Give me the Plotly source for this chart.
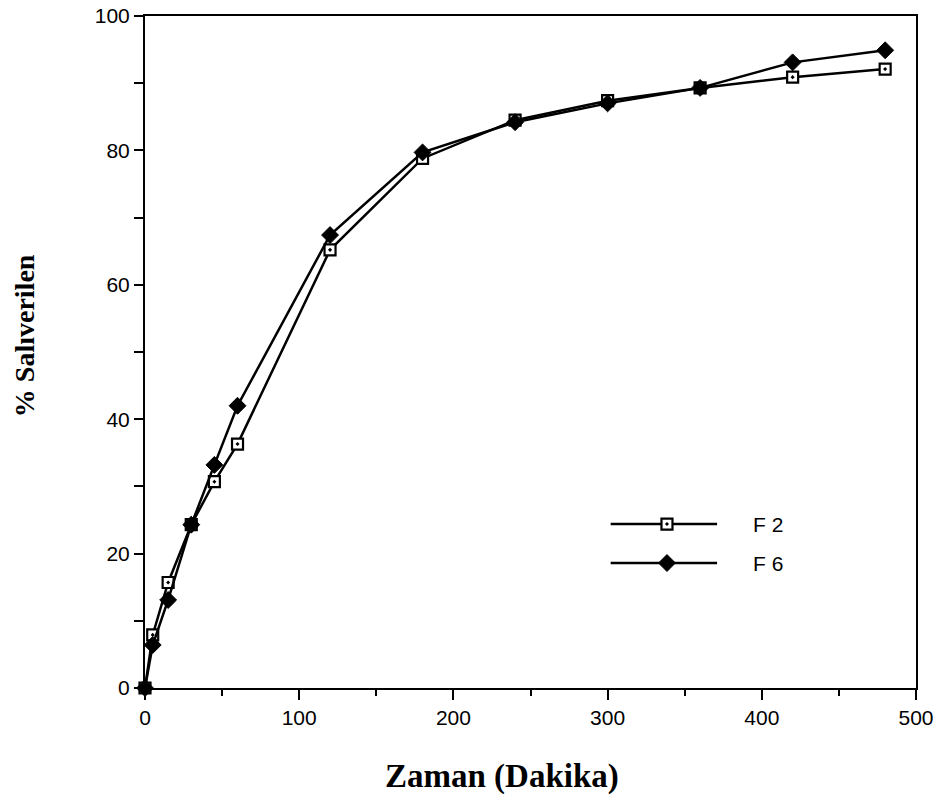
import plotly.graph_objects as go

time_min = [0, 5, 15, 30, 45, 60, 120, 180, 240, 300, 360, 420, 480]
f2_release = [0, 7.9, 15.7, 24.3, 30.7, 36.3, 65.2, 78.8, 84.5, 87.4, 89.3, 90.9, 92.1]
f6_release = [0, 6.4, 13.1, 24.3, 33.2, 42.0, 67.4, 79.7, 84.2, 87.0, 89.3, 93.1, 94.9]
series_names = ["F 2", "F 6"]

fig = go.Figure()
fig.add_trace(go.Scatter(
    x=time_min, y=f2_release, mode="lines+markers", name=series_names[0],
    line=dict(color="black", width=2.5),
    marker=dict(symbol="square-dot", size=11, color="white",
                line=dict(color="black", width=2.2)),
    showlegend=False, cliponaxis=False))
fig.add_trace(go.Scatter(
    x=time_min, y=f6_release, mode="lines+markers", name=series_names[1],
    line=dict(color="black", width=2.5),
    marker=dict(symbol="diamond", size=13, color="black",
                line=dict(color="black", width=1)),
    showlegend=False, cliponaxis=False))

# custom legend drawn inside the plot area
leg_x = [302, 371]
leg_y = [24.4, 18.6]
legend_styles = [
    dict(symbol="square-dot", size=11, color="white", line=dict(color="black", width=2.2)),
    dict(symbol="diamond", size=13, color="black", line=dict(color="black", width=1)),
]
for i, name in enumerate(series_names):
    fig.add_trace(go.Scatter(x=leg_x, y=[leg_y[i]] * 2, mode="lines",
                             line=dict(color="black", width=2.5),
                             showlegend=False, hoverinfo="skip"))
    fig.add_trace(go.Scatter(x=[(leg_x[0] + leg_x[1]) / 2 + 2], y=[leg_y[i]], mode="markers",
                             marker=legend_styles[i], showlegend=False, hoverinfo="skip"))
    fig.add_annotation(x=393, y=leg_y[i], text=name, showarrow=False, xanchor="left",
                       font=dict(family="Liberation Sans", size=21, color="black"))

fig.update_xaxes(range=[0, 500], showline=True, linecolor="black", linewidth=2,
                 mirror=True, ticks="outside", tickcolor="black", tickwidth=2, ticklen=10,
                 dtick=100, tick0=0, showgrid=False, zeroline=False, automargin=False,
                 ticklabeloverflow="allow",
                 minor=dict(dtick=50, ticks="outside", ticklen=6, tickwidth=1.5, tickcolor="black", showgrid=False),
                 tickfont=dict(family="Liberation Sans", size=21, color="black"))
fig.update_yaxes(range=[0, 100], showline=True, linecolor="black", linewidth=2,
                 mirror=True, ticks="outside", tickcolor="black", tickwidth=2, ticklen=9,
                 dtick=20, tick0=0, showgrid=False, zeroline=False, automargin=False,
                 ticklabeloverflow="allow",
                 minor=dict(dtick=10, ticks="outside", ticklen=9, tickwidth=1.5, tickcolor="black", showgrid=False),
                 tickfont=dict(family="Liberation Sans", size=21, color="black"))

fig.add_annotation(xref="paper", yref="paper", x=0.463, y=-0.131, xanchor="center", yanchor="middle",
                   text="<b>Zaman (Dakika)</b>", showarrow=False,
                   font=dict(family="Liberation Serif", size=33, color="black"))
fig.add_annotation(xref="paper", yref="paper", x=-0.157, y=0.525, textangle=-90,
                   xanchor="center", yanchor="middle",
                   text="<b>% Salıverilen</b>", showarrow=False,
                   font=dict(family="Liberation Serif", size=28, color="black"))

# page body has an 8px offset, so margins are shifted to keep the plot area in place
fig.update_layout(width=946, height=795,
                  margin=dict(l=137, r=38, t=8, b=115, autoexpand=False),
                  plot_bgcolor="white", paper_bgcolor="white")
fig.write_html("out.html")
